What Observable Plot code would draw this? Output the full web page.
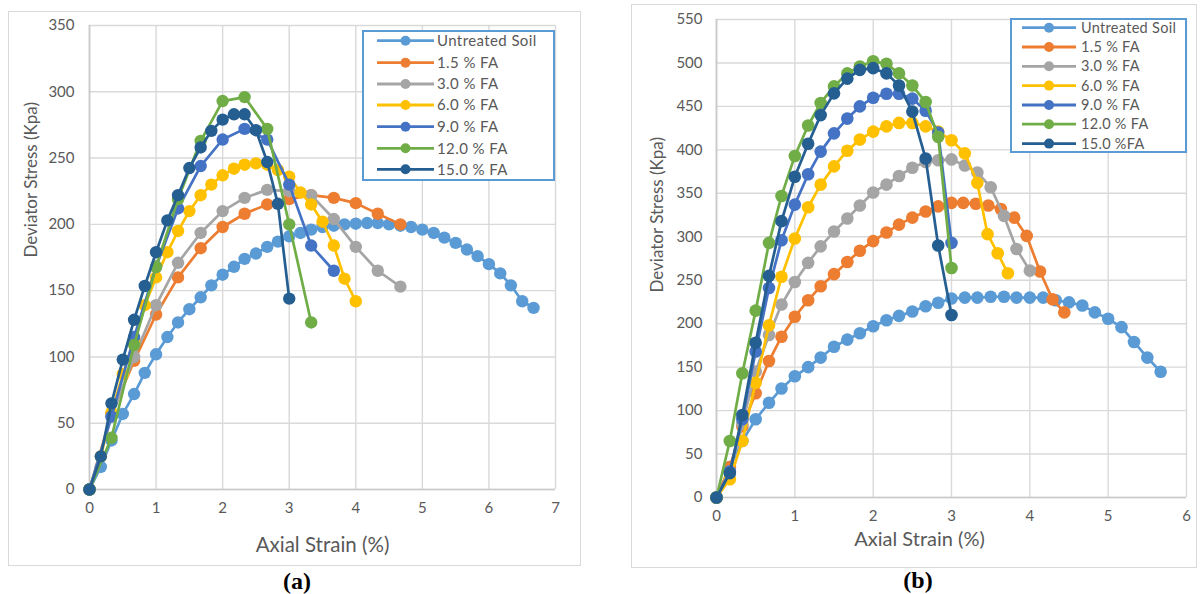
<!DOCTYPE html>
<html><head><meta charset="utf-8">
<script src="https://cdn.jsdelivr.net/npm/d3@7"></script>
<script src="https://cdn.jsdelivr.net/npm/@observablehq/plot@0.6"></script>
<style>
html,body{margin:0;padding:0;background:#fff;width:1203px;height:594px;overflow:hidden;position:relative;font-family:Lato,"Open Sans",sans-serif;}
.frame{position:absolute;border:1.5px solid #D9D9D9;box-sizing:border-box;}
.plot{position:absolute;}
.caption{position:absolute;font-family:"Liberation Serif","Times New Roman",serif;font-weight:bold;font-size:24px;color:#000;transform:translate(-50%,-50%);white-space:nowrap;}
</style></head><body>
<script>
// ---------- DATA ----------
const seriesNamesA = ["Untreated Soil","1.5 % FA","3.0 % FA","6.0 % FA","9.0 % FA","12.0 % FA","15.0 % FA"];
const seriesNamesB = ["Untreated Soil","1.5 % FA","3.0 % FA","6.0 % FA","9.0 % FA","12.0 % FA","15.0 %FA"];
const seriesColors = ["#5B9BD5","#ED7D31","#A5A5A5","#FFC000","#4472C4","#70AD47","#255E91"];

const xTicksA = [0,1,2,3,4,5,6,7];
const yTicksA = [0,50,100,150,200,250,300,350];
const xTicksB = [0,1,2,3,4,5,6];
const yTicksB = [0,50,100,150,200,250,300,350,400,450,500,550];

// Panel (a) strain readings
const strainFineA = [0,0.17,0.33,0.5,0.67,0.83,1,1.17,1.33,1.5,1.67,1.83,2,2.17,2.33,2.5,2.67,2.83,3,3.17,3.33,3.5,3.67,3.83,4,4.17,4.33,4.5,4.67,4.83,5,5.17,5.33,5.5,5.67,5.83,6,6.17,6.33,6.5,6.67];
const strainCoarseA = [0,0.33,0.67,1,1.33,1.67,2,2.33,2.67,3,3.33,3.67,4,4.33,4.67];
// Panel (a) stress readings (kPa)
const untreatedA = [0,17,37,57,72,88,102,115,126,136,145,154,162,168,174,178,183,187,191,193.5,196,198,199,200,200.5,201,201,200,199,198,196,193.5,190,186,181,176,170,163,154,142,137];
const fa15A = [0,57,97,132,160,182,198,208,215,219,222,220,216,208,200];
const fa30A = [0,55,100,139,171,193.5,210,220,226,225,222,204,183,165,153];
const fa60A = [0,25,58,87,113,139,160,179,195,210,222,230,237,242,245,246,245,241,236,224,215,202,184,159,142];
const fa90A = [0,55,115,168,212,244,264,272,264,230,184,165];
const fa120A = [0,39,109,168,219,263,293,296,272,200,126];
const fa150A = [0,25,65,98,128,153.5,179,203,222,242.5,258,270.5,279,283,283,271,247,215.5,144];

// Panel (b) strain readings
const strainB = [0,0.17,0.33,0.5,0.67,0.83,1,1.17,1.33,1.5,1.67,1.83,2,2.17,2.33,2.5,2.67,2.83,3,3.17,3.33,3.5,3.67,3.83,4,4.17,4.33,4.5,4.67,4.83,5,5.17,5.33,5.5,5.67];
const strainFa15B = [0,0.17,0.33,0.5,0.67,0.83,1,1.17,1.33,1.5,1.67,1.83,2,2.17,2.33,2.5,2.67,2.83,3,3.15,3.31,3.47,3.63,3.8,3.96,4.13,4.29,4.44];
const strainFa60B = [0,0.17,0.33,0.5,0.67,0.83,1,1.17,1.33,1.5,1.67,1.83,2,2.17,2.33,2.5,2.67,2.83,3,3.17,3.33,3.46,3.59,3.72];
// Panel (b) stress readings (kPa)
const untreatedB = [0,35,65,90,109,125.5,139.5,150,161,173.5,181.7,189,197,204,209,214,220,224,229,230,230,231,231,230,230,230,227,224.5,221,213,205.6,196,179,161,144.7];
const fa15B = [0,35,82,120,157,185,208,227,243,257,271,284,295,305,314,322,329,335,339,339,338,336,332,322,301,260,228,213];
const fa30B = [0,30,85,145,187,222,248,270,289,306,321,336,351,360,370,379.5,386,388,389,382,374,357,324,286,261];
const fa60B = [0,21,65,132,198,254,298,334,360,381,399,412,421,427,431,431,427,421,411,396,362,303,281,258];
const fa90B = [0,30,90,168,241,296,337,372,398,419,436,450,460,464.5,464.5,459,445,420,293];
const fa120B = [0,65,143,215,293,347,393,428,454,473,488,496,502,499,488,474,455,415,264];
const fa150B = [0,28,95,178,255,318,369,407,440,465,482,492,494,488,474,444,390,290,210];

// ---------- BUILD ----------
const seriesA = [
  [strainFineA, untreatedA],[strainCoarseA, fa15A],[strainCoarseA, fa30A],[strainFineA, fa60A],
  [strainCoarseA, fa90A],[strainCoarseA, fa120A],[strainFineA, fa150A]
].map(([xs, ys], i) => ({name: seriesNamesA[i], color: seriesColors[i], rows: ys.map((v, j) => ({strain: xs[j], stress: v}))}));
const seriesB = [
  [strainB, untreatedB],[strainFa15B, fa15B],[strainB, fa30B],[strainFa60B, fa60B],
  [strainB, fa90B],[strainB, fa120B],[strainB, fa150B]
].map(([xs, ys], i) => ({name: seriesNamesB[i], color: seriesColors[i], rows: ys.map((v, j) => ({strain: xs[j], stress: v}))}));

function makePlot(cfg) {
  const marks = [
    Plot.gridX(cfg.xTicks, {stroke: "#D9D9D9", strokeOpacity: 1, strokeWidth: 1.4}),
    Plot.gridY(cfg.yTicks, {stroke: "#D9D9D9", strokeOpacity: 1, strokeWidth: 1.4}),
    Plot.ruleX([0], {stroke: "#C9C9C9", strokeWidth: 1.7}),
    Plot.ruleY([0], {stroke: "#C9C9C9", strokeWidth: 1.7}),
    Plot.axisX(cfg.xTicks, {tickSize: 0, tickPadding: cfg.xPad, fontSize: cfg.tickFont, fill: "#595959", label: null}),
    Plot.axisY(cfg.yTicks, {tickSize: 0, tickPadding: cfg.yPad, fontSize: cfg.tickFont, fill: "#595959", label: null})
  ];
  for (const s of cfg.series) {
    marks.push(Plot.line(s.rows, {x: "strain", y: "stress", stroke: s.color, strokeWidth: 2.7}));
    marks.push(Plot.dot(s.rows, {x: "strain", y: "stress", r: cfg.r, fill: s.color}));
  }
  marks.push(Plot.text(["Axial Strain (%)"], {frameAnchor: "bottom", dx: cfg.xtDx, dy: cfg.xtDy, fontSize: cfg.xTitleFont, fill: "#595959"}));
  marks.push(Plot.text(["Deviator Stress (Kpa)"], {frameAnchor: "left", rotate: -90, dx: cfg.ytDx, dy: cfg.ytDy, fontSize: cfg.yTitleFont, fill: "#595959"}));
  return Plot.plot({
    width: cfg.width, height: cfg.height,
    marginLeft: cfg.ml, marginRight: cfg.mr, marginTop: cfg.mt, marginBottom: cfg.mb,
    x: {domain: cfg.xDomain}, y: {domain: cfg.yDomain},
    style: {fontFamily: "Lato, 'Open Sans', sans-serif", background: "transparent", overflow: "visible"},
    marks
  });
}

function place(el, left, top, cls) {
  const wrap = document.createElement("div");
  wrap.className = cls; wrap.style.left = left + "px"; wrap.style.top = top + "px";
  wrap.appendChild(el); document.body.appendChild(wrap); return wrap;
}

function frame(l, t, w, h) {
  const d = document.createElement("div"); d.className = "frame";
  Object.assign(d.style, {left: l + "px", top: t + "px", width: w + "px", height: h + "px"});
  document.body.appendChild(d);
}

function legend(cfg) {
  const svg = d3.create("svg").attr("width", cfg.w).attr("height", cfg.h)
    .style("position", "absolute").style("left", cfg.l + "px").style("top", cfg.t + "px")
    .style("font-family", "Lato, 'Open Sans', sans-serif");
  svg.append("rect").attr("x", 1).attr("y", 1).attr("width", cfg.w - 2).attr("height", cfg.h - 2)
    .attr("fill", "#fff").attr("stroke", "#5B9BD5").attr("stroke-width", 2);
  cfg.names.forEach((n, i) => {
    const y = cfg.rows[i] - cfg.t;
    svg.append("line").attr("x1", cfg.lx0 - cfg.l).attr("x2", cfg.lx1 - cfg.l).attr("y1", y).attr("y2", y)
      .attr("stroke", seriesColors[i]).attr("stroke-width", 2.8);
    svg.append("circle").attr("cx", (cfg.lx0 + cfg.lx1) / 2 - cfg.l).attr("cy", y).attr("r", cfg.r).attr("fill", seriesColors[i]);
    svg.append("text").attr("x", cfg.tx - cfg.l).attr("y", y).attr("dy", "0.35em")
      .attr("font-size", cfg.fs).attr("letter-spacing", cfg.ls).attr("fill", "#595959").text(n);
  });
  document.body.appendChild(svg.node());
}

function caption(text, x, y) {
  const d = document.createElement("div"); d.className = "caption"; d.textContent = text;
  d.style.left = x + "px"; d.style.top = y + "px"; document.body.appendChild(d);
}

// Panel (a)
frame(8, 11, 573, 555);
place(makePlot({
  width: 573, height: 555, ml: 81, mr: 26, mt: 14, mb: 77,
  xDomain: [0, 7], yDomain: [0, 350], xTicks: xTicksA, yTicks: yTicksA,
  xPad: 13, yPad: 15, tickFont: 15, xTitleFont: 20.5, yTitleFont: 17, r: 6.2,
  xtDx: 0, xtDy: 62, ytDx: -58, ytDy: 0, series: seriesA
}), 8, 11, "plot");
legend({l: 362, t: 30, w: 193, h: 151, rows: [40.7, 62.7, 84, 105, 126.7, 148.3, 169.3],
  lx0: 377, lx1: 434, tx: 437, r: 5, fs: 15, ls: 0.4, names: seriesNamesA});
caption("(a)", 297, 581);

// Panel (b)
frame(631, 4, 566, 564);
place(makePlot({
  width: 566, height: 564, ml: 85, mr: 11, mt: 15, mb: 71,
  xDomain: [0, 6], yDomain: [0, 550], xTicks: xTicksB, yTicks: yTicksB,
  xPad: 13, yPad: 14, tickFont: 15, xTitleFont: 20, yTitleFont: 17, r: 6.3,
  xtDx: -32, xtDy: 48, ytDx: -59, ytDy: 34, series: seriesB
}), 631, 4, "plot");
legend({l: 1010, t: 18, w: 177, h: 135, rows: [27.7, 47, 66.3, 85.6, 105, 124.2, 143.6],
  lx0: 1022, lx1: 1076, tx: 1081, r: 5, fs: 14.5, ls: 0.3, names: seriesNamesB});
caption("(b)", 918, 580);
</script>
</body></html>
